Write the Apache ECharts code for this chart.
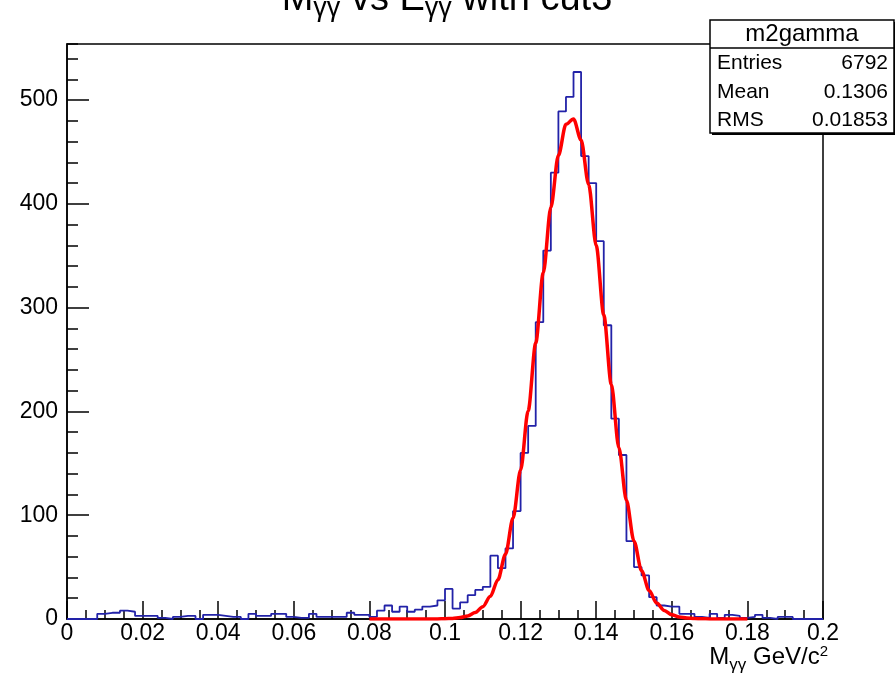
<!DOCTYPE html>
<html>
<head>
<meta charset="utf-8">
<script src="https://cdn.jsdelivr.net/npm/echarts/dist/echarts.min.js"></script>
<style>html,body{margin:0;padding:0;background:#fff}#c{width:895px;height:674px}</style>
</head>
<body>
<div id="c"></div>
<script>
// ---- data ----
const binLow = 0.0;
const binWidth = 0.002;
const counts = [
  0, 0, 0, 0, 5, 6, 6, 8, 7, 3,
  3, 3, 1, 0, 2, 3, 3, 0, 4, 4,
  3, 2, 2, 0, 5, 3, 3, 5, 5, 2,
  1, 1, 5, 2, 2, 2, 2, 6, 4, 4,
  2, 8, 13, 7, 12, 7, 9, 12, 13, 18,
  29, 10, 16, 23, 28, 31, 61, 49, 68, 104,
  160, 186, 286, 355, 430, 489, 503, 527, 446, 420,
  364, 283, 193, 158, 75, 50, 42, 21, 13, 12,
  12, 5, 5, 2, 1, 5, 1, 4, 3, 1,
  2, 4, 1, 0, 2, 2, 0, 0, 0, 0
];
const fitStart = 0.080;
const fitStep = 0.002;
const fitValues = [
  0, 0, 0, 0, 0, 0, 0, 0, 0.05, 0.1,
  0.3, 0.6, 1.4, 3.0, 6.2, 11.9, 21.8, 37.9, 62.4, 97.2,
  143.5, 200.6, 265.8, 333.6, 396.6, 446.7, 476.6, 481.8, 461.4, 418.6,
  359.8, 293.0, 225.9, 165.1, 114.3, 75.0, 46.6, 27.4, 15.3, 8.1,
  4.0, 1.9, 0.9, 0.4, 0.2, 0.1, 0, 0, 0, 0, 0
];
const xTickLabels = ['0', '0.02', '0.04', '0.06', '0.08', '0.1', '0.12', '0.14', '0.16', '0.18', '0.2'];
const yTickLabels = ['0', '100', '200', '300', '400', '500'];
const statsTitle = 'm2gamma';
const statsNames = ['Entries', 'Mean', 'RMS'];
const statsValues = ['6792', '0.1306', '0.01853'];

// ---- build series ----
const F = 'Liberation Sans, Arial, Helvetica, sans-serif';
const histData = counts.map((v, i) => [binLow + i * binWidth, v]);
histData.push([binLow + counts.length * binWidth, counts[counts.length - 1]]);
const fitData = fitValues.map((v, i) => [fitStart + i * fitStep, v]);

const chart = echarts.init(document.getElementById('c'), null, {renderer: 'canvas'});

const statsY = [63, 92, 120];
const statsGraphics = [
  {type: 'rect', z: 100, shape: {x: 712, y: 22, width: 184, height: 113}, style: {fill: '#000'}},
  {type: 'rect', z: 101, shape: {x: 710, y: 20, width: 184, height: 113}, style: {fill: '#fff', stroke: '#000', lineWidth: 1.5}},
  {type: 'line', z: 102, shape: {x1: 710, y1: 48, x2: 894, y2: 48}, style: {stroke: '#000', lineWidth: 1.5}},
  {type: 'text', z: 103, x: 802, y: 34, style: {text: statsTitle, font: '24px ' + F, fill: '#000', align: 'center', verticalAlign: 'middle'}}
];
statsNames.forEach((n, i) => {
  statsGraphics.push({type: 'text', z: 103, x: 717, y: statsY[i], style: {text: n, font: '21px ' + F, fill: '#000', align: 'left', verticalAlign: 'middle'}});
  statsGraphics.push({type: 'text', z: 103, x: 888, y: statsY[i], style: {text: statsValues[i], font: '21px ' + F, fill: '#000', align: 'right', verticalAlign: 'middle'}});
});

const option = {
  backgroundColor: '#fff',
  animation: false,
  grid: {left: 67, right: 72, top: 44, bottom: 55, show: true, borderColor: '#000', borderWidth: 1.5, backgroundColor: 'transparent'},
  xAxis: [{
    type: 'value', min: 0, max: 0.2, interval: 0.02, position: 'bottom',
    axisLine: {show: true, onZero: false, lineStyle: {color: '#000', width: 1.5}},
    axisTick: {show: true, inside: true, length: 18, lineStyle: {color: '#000', width: 1.5}},
    minorTick: {show: true, splitNumber: 4, length: 9, lineStyle: {color: '#000', width: 1.5}},
    axisLabel: {color: '#000', fontFamily: F, fontSize: 23, margin: 3,
      formatter: v => xTickLabels[Math.round(v / 0.02)]},
    splitLine: {show: false}, minorSplitLine: {show: false}
  }],
  yAxis: [{
    type: 'value', min: 0, max: 554, interval: 100, position: 'left',
    axisLine: {show: true, onZero: false, lineStyle: {color: '#000', width: 1.5}},
    axisTick: {show: true, inside: true, length: 22, lineStyle: {color: '#000', width: 1.5}},
    axisLabel: {color: '#000', fontFamily: F, fontSize: 23, margin: 9, showMaxLabel: false,
      formatter: v => { const k = Math.round(v / 100); return (Math.abs(v - k * 100) < 1e-6 && yTickLabels[k] !== undefined) ? yTickLabels[k] : ''; }},
    splitLine: {show: false}
  }, {
    type: 'value', min: 0, max: 554, interval: 20, position: 'left',
    axisLine: {show: false},
    axisTick: {show: true, inside: true, length: 11, lineStyle: {color: '#000', width: 1.5}},
    axisLabel: {show: false},
    splitLine: {show: false}
  }],
  series: [{
    type: 'line', step: 'end', data: histData, showSymbol: false, xAxisIndex: 0, yAxisIndex: 0,
    lineStyle: {color: '#2222a8', width: 1.8}, z: 3
  }, {
    type: 'line', data: fitData, showSymbol: false, smooth: 0.3, smoothMonotone: 'x', xAxisIndex: 0, yAxisIndex: 0,
    lineStyle: {color: '#ff0000', width: 3.5}, z: 4
  }],
  graphic: [
    {type: 'text', z: 110, x: 447, y: 22, style: {
      text: '{m|M}{s|γγ}{m| vs E}{s|γγ}{m| with cut3}',
      rich: {
        m: {fontSize: 38, fontFamily: F, padding: [0, 0, 3, 0], verticalAlign: 'bottom'},
        s: {fontSize: 27, fontFamily: F, verticalAlign: 'bottom'}
      },
      fill: '#000', align: 'center', verticalAlign: 'bottom'}},
    {type: 'text', z: 110, x: 828, y: 674, style: {
      text: '{m|M}{s|γγ}{m| GeV/c}{p|2}',
      rich: {
        m: {fontSize: 24, fontFamily: F, padding: [0, 0, 5, 0], verticalAlign: 'bottom'},
        s: {fontSize: 17, fontFamily: F, verticalAlign: 'bottom'},
        p: {fontSize: 15, fontFamily: F, padding: [0, 0, 15, 0], verticalAlign: 'bottom'}
      },
      fill: '#000', align: 'right', verticalAlign: 'bottom'}}
  ].concat(statsGraphics)
};
chart.setOption(option);
</script>
</body>
</html>
